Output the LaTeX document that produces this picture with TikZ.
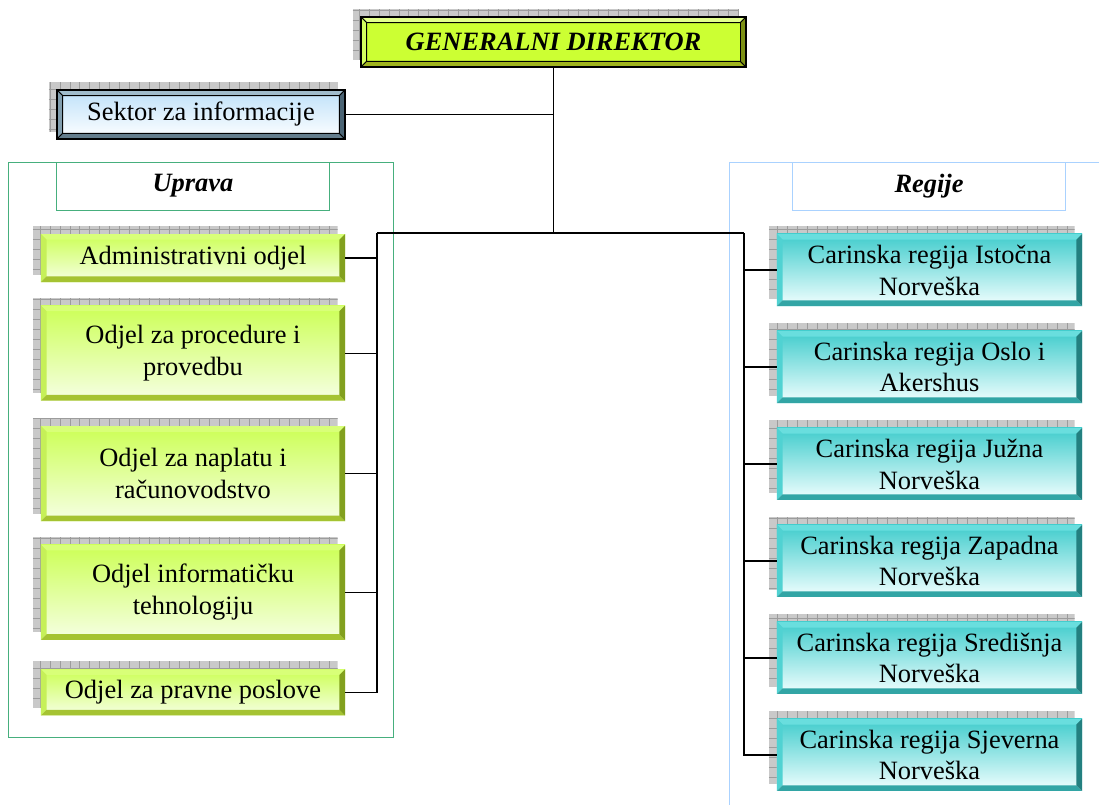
\documentclass[tikz,border=0pt]{standalone}
\usepackage{fontspec}
\setmainfont{Liberation Serif}
\usepackage{xcolor}
\usetikzlibrary{positioning, backgrounds}
\definecolor{orgChief}{RGB}{204,255,51}
\definecolor{orgChiefT}{RGB}{226,255,140}
\definecolor{orgChiefL}{RGB}{212,255,95}
\definecolor{orgChiefB}{RGB}{160,180,30}
\definecolor{orgChiefR}{RGB}{125,145,20}
\definecolor{orgInfoTop}{RGB}{190,225,250}
\definecolor{orgInfoT}{RGB}{160,188,204}
\definecolor{orgInfoL}{RGB}{130,158,174}
\definecolor{orgInfoB}{RGB}{100,125,140}
\definecolor{orgInfoR}{RGB}{75,100,116}
\definecolor{orgDeptTop}{RGB}{204,255,85}
\definecolor{orgDeptBot}{RGB}{246,255,228}
\definecolor{orgDeptT}{RGB}{216,255,120}
\definecolor{orgDeptL}{RGB}{198,240,88}
\definecolor{orgDeptB}{RGB}{165,195,50}
\definecolor{orgDeptR}{RGB}{130,160,30}
\definecolor{orgRegTop}{RGB}{64,204,204}
\definecolor{orgRegBot}{RGB}{242,255,255}
\definecolor{orgRegT}{RGB}{105,222,222}
\definecolor{orgRegL}{RGB}{80,210,210}
\definecolor{orgRegB}{RGB}{50,165,165}
\definecolor{orgRegR}{RGB}{35,128,128}
\definecolor{orgGreenLine}{RGB}{70,175,125}
\definecolor{orgBlueLine}{RGB}{170,210,255}
\newcommand{\bevw}{4pt}

\begin{document}
\begin{tikzpicture}[
    x=0.025cm, y=-0.025cm,
    bevel/.style n args={5}{path picture={
      \path[fill=#1, #5] (path picture bounding box.north west) -- (path picture bounding box.north east)
        -- ([shift={(-\bevw,-\bevw)}]path picture bounding box.north east)
        -- ([shift={(\bevw,-\bevw)}]path picture bounding box.north west) -- cycle;
      \path[fill=#2, #5] (path picture bounding box.north west) -- (path picture bounding box.south west)
        -- ([shift={(\bevw,\bevw)}]path picture bounding box.south west)
        -- ([shift={(\bevw,-\bevw)}]path picture bounding box.north west) -- cycle;
      \path[fill=#3, #5] (path picture bounding box.south west) -- (path picture bounding box.south east)
        -- ([shift={(-\bevw,\bevw)}]path picture bounding box.south east)
        -- ([shift={(\bevw,\bevw)}]path picture bounding box.south west) -- cycle;
      \path[fill=#4, #5] (path picture bounding box.north east) -- (path picture bounding box.south east)
        -- ([shift={(-\bevw,\bevw)}]path picture bounding box.south east)
        -- ([shift={(-\bevw,-\bevw)}]path picture bounding box.north east) -- cycle;
    }},
    box/.style={rectangle, align=center, inner sep=2pt, text=black,
      font=\fontsize{18.8}{22.7}\selectfont},
    chief/.style={box, fill=orgChief, draw=black, line width=0.9pt,
      minimum width=9.625cm, minimum height=1.25cm, font=\fontsize{18.8}{22.7}\selectfont\bfseries\itshape,
      bevel={orgChiefT}{orgChiefL}{orgChiefB}{orgChiefR}{draw=black, line width=0.6pt}},
    infobox/.style={box, top color=orgInfoTop, bottom color=white, draw=black, line width=0.9pt,
      minimum width=7.2cm, minimum height=1.225cm,
      bevel={orgInfoT}{orgInfoL}{orgInfoB}{orgInfoR}{draw=black, line width=0.6pt}},
    dept/.style={box, top color=orgDeptTop, bottom color=orgDeptBot, minimum width=7.6cm,
      bevel={orgDeptT}{orgDeptL}{orgDeptB}{orgDeptR}{draw=none}},
    region/.style={box, top color=orgRegTop, bottom color=orgRegBot, minimum width=7.625cm,
      minimum height=1.8cm, bevel={orgRegT}{orgRegL}{orgRegB}{orgRegR}{draw=none}},
    grouplabel/.style={box, fill=white, line width=0.7pt, minimum width=6.8cm, minimum height=1.2cm,
      font=\fontsize{18.8}{22.7}\selectfont\bfseries\itshape},
    shadowfill/.style={fill=gray!42},
    shadowgrid/.style={draw=gray!78, line width=0.4pt, step=7.09pt},
    wire/.style={draw=black, line width=0.8pt}
  ]
    \useasboundingbox (0,0) rectangle (1099,805);
    % group frames
    \draw[orgGreenLine, line width=0.7pt] (8,162) rectangle (393,737);
    \draw[orgBlueLine, line width=0.7pt] (1099,162) -- (729,162) -- (729,805);
    \node[grouplabel, draw=orgGreenLine] (uprava) at (193,186) {Uprava};
    \node[grouplabel, draw=orgBlueLine] (regije) at (929,186) {Regije};
    % top
    \node[chief] (gd) at (553.5,42) {GENERALNI DIREKTOR};
    \node[infobox] (sektor) at (201,114.5) {Sektor za informacije};
    % Uprava
    \node[dept, minimum height=1.2cm] (adm) at (193,258) {Administrativni odjel};
    \node[dept, minimum height=2.375cm, below=0.575cm of adm] (proc) {Odjel za procedure i\\provedbu};
    \node[dept, minimum height=2.375cm, below=0.625cm of proc] (napl) {Odjel za naplatu i\\računovodstvo};
    \node[dept, minimum height=2.375cm, below=0.575cm of napl] (info) {Odjel informatičku\\tehnologiju};
    \node[dept, minimum height=1.15cm, below=0.725cm of info] (prav) {Odjel za pravne poslove};
    % Regije
    \node[region] (ist) at (929.5,270) {Carinska regija Istočna\\Norveška};
    \node[region, below=0.61cm of ist] (oslo) {Carinska regija Oslo i\\Akershus};
    \node[region, below=0.61cm of oslo] (juz) {Carinska regija Južna\\Norveška};
    \node[region, below=0.61cm of juz] (zap) {Carinska regija Zapadna\\Norveška};
    \node[region, below=0.61cm of zap] (sred) {Carinska regija Središnja\\Norveška};
    \node[region, below=0.61cm of sred] (sjev) {Carinska regija Sjeverna\\Norveška};
    % shadows
    \begin{scope}[on background layer]
      \foreach \n in {gd,sektor,adm,proc,napl,info,prav,ist,oslo,juz,zap,sred,sjev}{
        \begin{scope}
          \clip ([shift={(-5.5pt,5.5pt)}]\n.south west) rectangle ([shift={(-5.5pt,5.5pt)}]\n.north east);
          \fill[shadowfill] ([shift={(-5.5pt,5.5pt)}]\n.south west) rectangle ([shift={(-5.5pt,5.5pt)}]\n.north east);
          \draw[shadowgrid] ([shift={(-5.5pt,5.5pt)}]\n.south west) grid ([shift={(-5.5pt,5.5pt)}]\n.north east);
        \end{scope}
      }
    \end{scope}
    % connectors
    \coordinate (lbus) at (377,233);
    \coordinate (rbus) at (744,233);
    \draw[wire] (gd.south) -- (gd.south |- lbus);
    \draw[wire] (sektor.east) -- (sektor.east -| gd.south);
    \draw[wire] (lbus) -- (rbus);
    \draw[wire] (lbus) -- (lbus |- prav.east) -- (prav.east);
    \draw[wire] (rbus) -- (rbus |- sjev.west) -- (sjev.west);
    \foreach \n in {adm,proc,napl,info}
      \draw[wire] (\n.east) -- (\n.east -| lbus);
    \foreach \n in {ist,oslo,juz,zap,sred}
      \draw[wire] (\n.west) -- (\n.west -| rbus);
  \end{tikzpicture}
\end{document}
